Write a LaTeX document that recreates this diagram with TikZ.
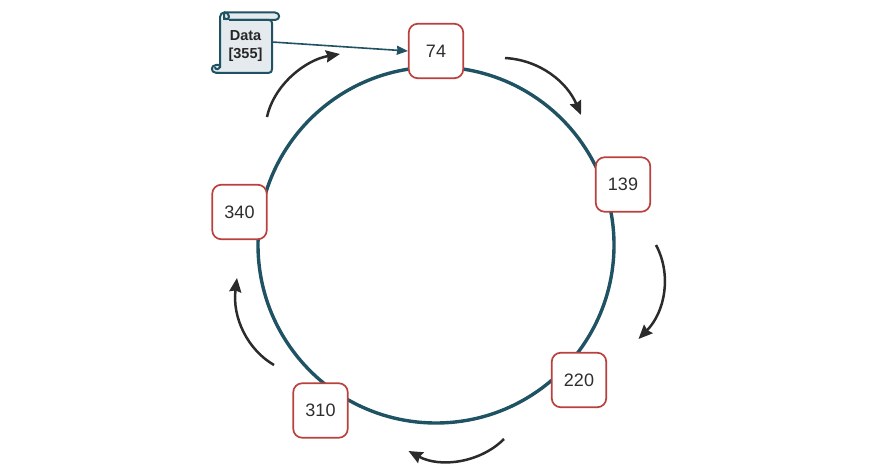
\documentclass[tikz,border=0pt]{standalone}
\usepackage{fontspec}
\setmainfont{Liberation Sans}
\usetikzlibrary{arrows.meta}
\definecolor{ringc}{HTML}{1F5263}
\definecolor{redc}{HTML}{B9403C}
\definecolor{darkc}{HTML}{2B2B2B}
\definecolor{paper}{HTML}{E4EAED}
\tikzset{
  x=1pt,y=-1pt,
  ring/.style={draw=ringc,line width=3.4pt},
  ringnode/.style={draw=redc,line width=1.7pt,fill=white,rounded corners=9pt,minimum width=54.5pt,minimum height=54.5pt,inner sep=0pt,font=\fontsize{18}{20}\selectfont,text=black!82},
  turn/.style={draw=darkc,line width=2.5pt,-{Stealth[length=14pt,width=12pt,inset=1.5pt]}},
  scrollline/.style={draw=ringc,line width=2pt,fill=paper,line join=round},
  scrollbody/.style={scrollline,draw=none,minimum width=52pt,minimum height=53pt,inner sep=0pt,align=center,font=\fontsize{14.5}{18}\selectfont\bfseries,text=black!85},
  link/.style={draw=ringc,line width=1.6pt,-{Stealth[length=11pt,width=9pt,inset=0.5pt]}}
}
\begin{document}
\begin{tikzpicture}
\useasboundingbox (0,0) rectangle (886,476);
\draw[ring] (436,245) circle[radius=178];
% scroll: top roll, bottom curl, then body
\draw[scrollline] (224,12.5) -- (275,12.5) .. controls (280.5,12.5) and (280.5,20) .. (275,20) -- (224,20) -- cycle;
\draw[scrollline] (220,65) -- (216,65) .. controls (210.5,65) and (210.5,72.8) .. (216,72.8) -- (224,72.8) -- cycle;
\node[scrollbody] (data) at (245.5,46.3) {\rule{0pt}{0pt}\raisebox{-1pt}{Data}\\\raisebox{-1pt}{[355]}};
\draw[scrollline,fill=none] (220,68) -- (220,17) .. controls (220,11) and (229,11) .. (229,16.5) .. controls (229,20) and (224,20) .. (223.5,16.5);
\draw[scrollline,fill=none] (229,20) -- (269,20) .. controls (271,20) and (272,21) .. (272,23) -- (272,69) .. controls (272,71.5) and (271,72.8) .. (269,72.8) -- (216,72.8);
\draw[scrollline,fill=none] (220,66) .. controls (220,70) and (214.5,70) .. (215,67);
\node[ringnode] (n74) at (436,51) {74};
\node[ringnode] (n139) at (623,184.5) {139};
\node[ringnode] (n220) at (579,380) {220};
\node[ringnode] (n310) at (320.5,410.5) {310};
\node[ringnode] (n340) at (239.5,212) {340};
\coordinate (dataout) at (272,42);
\draw[link] (dataout) -- (n74.west);
\coordinate (a1) at (505,58);   \coordinate (a2) at (581,115);
\coordinate (b1) at (656,245);  \coordinate (b2) at (638.5,339);
\coordinate (c1) at (504,439);  \coordinate (c2) at (408.5,451);
\coordinate (d1) at (274,365);  \coordinate (d2) at (237,278);
\coordinate (e1) at (267,117);  \coordinate (e2) at (340,54);
\draw[turn] (a1) .. controls (540,60) and (567,82) .. (a2);
\draw[turn] (b1) .. controls (672,275) and (665,312) .. (b2);
\draw[turn] (c1) .. controls (480,463) and (440,468) .. (c2);
\draw[turn] (d1) .. controls (248,350) and (232,318) .. (d2);
\draw[turn] (e1) .. controls (274,85) and (305,60) .. (e2);
\end{tikzpicture}
\end{document}
